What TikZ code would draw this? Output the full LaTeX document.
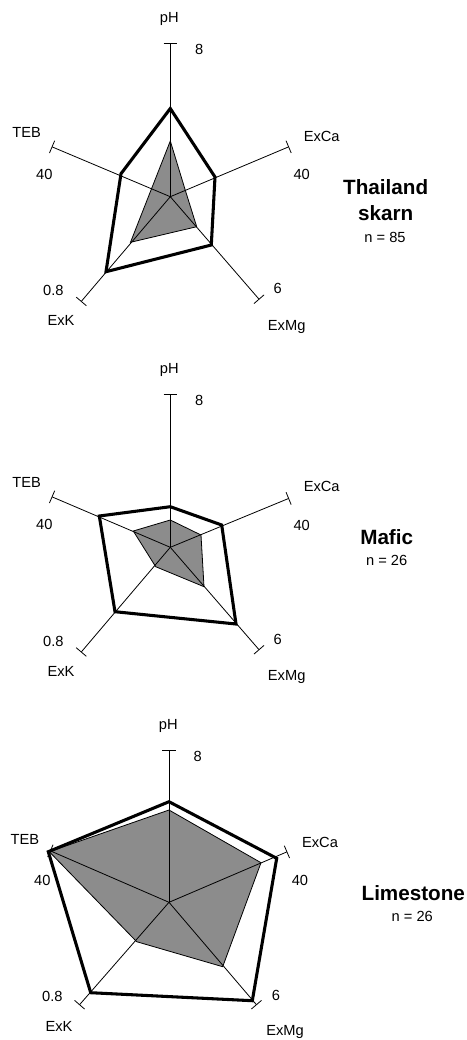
\documentclass[tikz,border=0pt]{standalone}
\usepackage{fontspec}
\setmainfont{Liberation Sans}
\usepackage{tikz}
\usetikzlibrary{arrows.meta}

\tikzset{
  axe/.style={line width=0.6pt,-{Bar[width=10pt,line width=0.6pt]}},
  mean/.style={line width=2.3pt,line join=miter},
  inner/.style={line width=0.6pt,fill=black!45},
  lab/.style={font=\fontsize{11}{13}\selectfont,inner sep=0pt},
  ttl/.style={font=\fontsize{15.5}{18}\selectfont\bfseries,inner sep=0pt},
}

\begin{document}
\begin{tikzpicture}[x=0.75pt,y=-0.75pt]
\useasboundingbox (0,0) rectangle (467,1040);
% Thailand skarn
\coordinate (c1) at (170.3,196.7);
\draw[inner] (170.3,141) -- (185,189.3) -- (196.7,226.7) -- (130.5,242.3) -- (151.7,188.3) -- cycle;
\draw[axe] (c1) -- (170.3,42.7);
\draw[axe] (c1) -- (289,146.7);
\draw[axe] (c1) -- (259.3,299.5);
\draw[axe] (c1) -- (81,301.7);
\draw[axe] (c1) -- (51.7,146.7);
\draw[mean] (170.3,108.5) -- (215,177) -- (211.3,245) -- (106,271.7) -- (121,173.7) -- cycle;
\node[lab] (ph1) at (169.3,19) {pH};
\node[lab] (ph1v) at (199.3,49.3) {8};
\node[lab] (ca1) at (321.7,136) {ExCa};
\node[lab] (ca1v) at (301.7,174) {40};
\node[lab] (mg1v) at (277.7,288.3) {6};
\node[lab] (mg1) at (286.7,326.7) {ExMg};
\node[lab] (k1v) at (53.3,290.7) {0.8};
\node[lab] (k1) at (61,320.7) {ExK};
\node[lab] (teb1) at (26.7,132.3) {TEB};
\node[lab] (teb1v) at (44.3,174) {40};
\node[ttl] (t1a) at (385.7,187.3) {Thailand};
\node[ttl] (t1b) at (385.7,213.3) {skarn};
\node[lab] (n1) at (385,237.3) {n = 85};
% Mafic
\coordinate (c2) at (170.3,547.3);
\draw[inner] (170.3,520) -- (201,535) -- (204,586.7) -- (155.7,566.7) -- (133.3,531) -- cycle;
\draw[axe] (c2) -- (170.3,394);
\draw[axe] (c2) -- (289,498.3);
\draw[axe] (c2) -- (259.3,650);
\draw[axe] (c2) -- (81,652.3);
\draw[axe] (c2) -- (51.7,496.7);
\draw[mean] (170.3,506.7) -- (221.7,525) -- (236,624) -- (115,611.7) -- (99.3,516) -- cycle;
\node[lab] (ph2) at (169.3,370) {pH};
\node[lab] (ph2v) at (199.3,400) {8};
\node[lab] (ca2) at (321.7,486.7) {ExCa};
\node[lab] (ca2v) at (301.7,525) {40};
\node[lab] (mg2v) at (277.7,639) {6};
\node[lab] (mg2) at (286.7,676.7) {ExMg};
\node[lab] (k2v) at (53.3,641.7) {0.8};
\node[lab] (k2) at (61,671) {ExK};
\node[lab] (teb2) at (26.7,482.7) {TEB};
\node[lab] (teb2v) at (44.3,524.3) {40};
\node[ttl] (t2) at (386.7,536.7) {Mafic};
\node[lab] (n2) at (386.7,560) {n = 26};
% Limestone
\coordinate (c3) at (169,902.3);
\draw[inner] (169,810) -- (261,862.7) -- (222.7,966.7) -- (136.7,941.7) -- (49.3,851.7) -- cycle;
\draw[axe] (c3) -- (169,750);
\draw[axe] (c3) -- (287.3,851.7);
\draw[axe] (c3) -- (256.7,1005);
\draw[axe] (c3) -- (79.3,1005);
\draw[axe] (c3) -- (50,850.7);
\draw[mean] (169,801.7) -- (276.7,858.3) -- (252.3,1000.7) -- (90.7,992.7) -- (48.3,851.7) -- cycle;
\node[lab] (ph3) at (168.3,725.7) {pH};
\node[lab] (ph3v) at (197.7,756) {8};
\node[lab] (ca3) at (320,842.3) {ExCa};
\node[lab] (ca3v) at (300,880.7) {40};
\node[lab] (mg3v) at (276,995) {6};
\node[lab] (mg3) at (285,1031.7) {ExMg};
\node[lab] (k3v) at (52.3,996.7) {0.8};
\node[lab] (k3) at (59,1026.7) {ExK};
\node[lab] (teb3) at (25,839) {TEB};
\node[lab] (teb3v) at (42.3,880) {40};
\node[ttl] (t3) at (413.3,893.3) {Limestone};
\node[lab] (n3) at (412.3,916) {n = 26};
\end{tikzpicture}
\end{document}
